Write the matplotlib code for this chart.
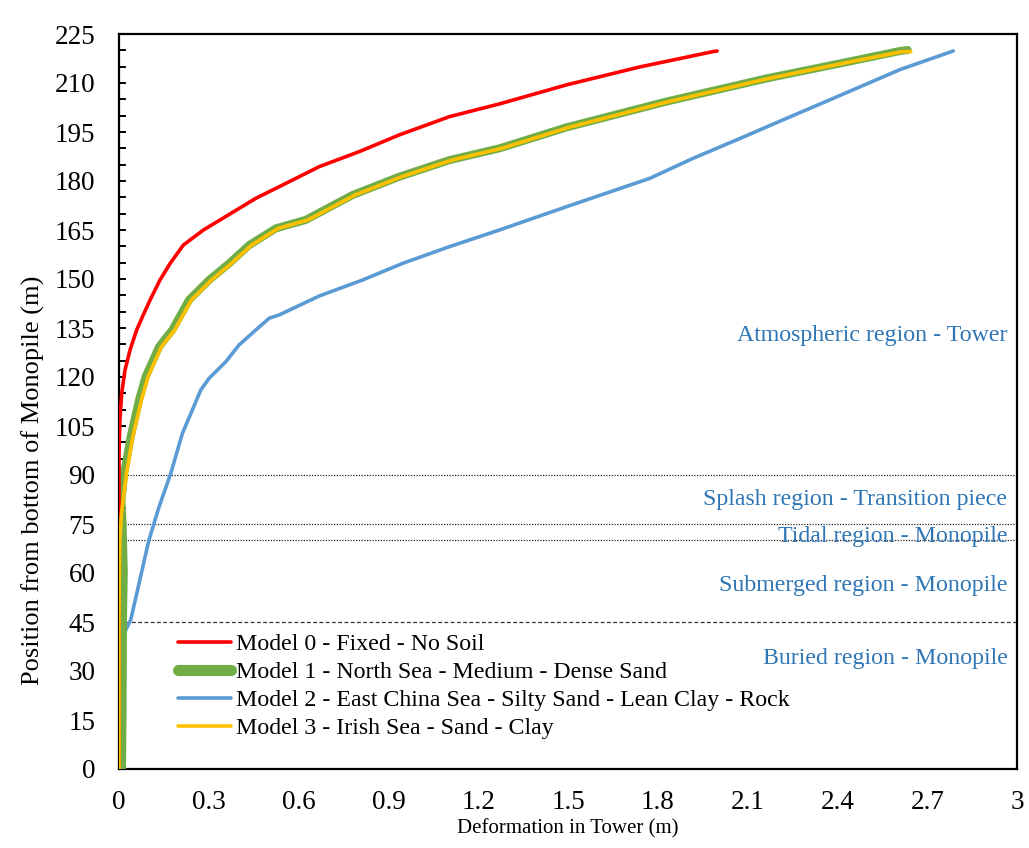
import matplotlib
matplotlib.use('Agg')
from matplotlib import pyplot as plt
from matplotlib.ticker import MultipleLocator, FuncFormatter

# Deformation (m) vs position from bottom of monopile (m)
m0_def = [0, 0, 0.0, 0.003, 0.009, 0.020, 0.037, 0.059, 0.081, 0.104, 0.137, 0.171, 0.215, 0.282,
          0.338, 0.457, 0.558, 0.669, 0.803, 0.936, 1.104, 1.271, 1.494, 1.739, 1.984, 1.998]
m0_pos = [0, 60, 96.6, 106.8, 115.0, 122.1, 128.3, 134.4, 139.0, 143.6, 149.7, 154.8, 160.4, 165.0,
          168.1, 174.7, 179.3, 184.4, 189.0, 194.1, 199.7, 203.6, 209.4, 214.9, 219.6, 219.8]

m1_def = [0.010, 0.012, 0.013, 0.016, 0.012, 0.008, 0.017, 0.039, 0.067, 0.089, 0.134, 0.178,
          0.234, 0.301, 0.368, 0.435, 0.524, 0.624, 0.780, 0.936, 1.104, 1.271, 1.494, 1.828,
          2.163, 2.441, 2.609, 2.635]
m1_pos = [0, 20, 45, 60, 75, 82, 90.5, 101.7, 113.0, 120.1, 129.3, 134.4,
          143.6, 149.7, 154.8, 160.4, 165.5, 168.1, 175.7, 181.3, 186.4, 190.0, 196.4, 204.3,
          211.4, 216.6, 219.8, 220.1]

m2_def = [0.002, 0.004, 0.006, 0.011, 0.022, 0.039, 0.067, 0.100, 0.134, 0.173, 0.212, 0.245,
          0.273, 0.301, 0.357, 0.401, 0.457, 0.502, 0.535, 0.669, 0.814, 0.948, 1.104, 1.271,
          1.494, 1.773, 1.917, 2.074, 2.218, 2.386, 2.609, 2.787]
m2_pos = [0, 15, 30.3, 37.4, 42.5, 45.6, 56.8, 70.1, 80.3, 90.5, 102.8, 109.9,
          116.0, 119.6, 124.7, 129.8, 134.4, 138.0, 139.0, 144.8, 149.7, 154.8, 159.9, 165.0,
          172.1, 180.8, 186.9, 193.0, 198.7, 205.3, 214.1, 219.8]

m3_def = [0.0, 0.0, 0.001, 0.003, 0.008, 0.025, 0.046, 0.075, 0.097, 0.142, 0.186,
          0.242, 0.309, 0.376, 0.443, 0.532, 0.632, 0.788, 0.944, 1.112, 1.279, 1.502, 1.836,
          2.171, 2.449, 2.617, 2.645]
m3_pos = [0, 45, 60, 70, 78, 90.5, 101.7, 113.0, 120.1, 129.3, 134.4,
          143.6, 149.7, 154.8, 160.4, 165.5, 168.1, 175.7, 181.3, 186.4, 190.0, 196.4, 204.3,
          211.4, 216.6, 219.6, 219.6]

labels = ['Model 0 - Fixed - No Soil',
          'Model 1 - North Sea - Medium - Dense Sand',
          'Model 2 - East China Sea - Silty Sand - Lean Clay - Rock',
          'Model 3 - Irish Sea - Sand - Clay']

# region boundaries and labels
bound_dotted = [90, 75, 70]
bound_dashed = 45
region_names = ['Atmospheric region - Tower', 'Splash region - Transition piece',
                'Tidal region - Monopile', 'Submerged region - Monopile',
                'Buried region - Monopile']
region_y = [132.8, 82.6, 71.3, 56.3, 33.7]

plt.rcParams['font.family'] = ['Liberation Serif', 'DejaVu Serif']
fs_tick = 19.5
fs_text = 17.2

fig = plt.figure(figsize=(10.29, 8.48), dpi=100)
ax = fig.add_axes([119 / 1029, 1 - 769 / 848, 898 / 1029, 735 / 848])

l0, = ax.plot(m0_def, m0_pos, color='#FF0000', lw=2.6, solid_capstyle='round', zorder=4)
l1, = ax.plot(m1_def, m1_pos, color='#70AD47', lw=5.8, solid_capstyle='round', zorder=3)
l2, = ax.plot(m2_def, m2_pos, color='#5B9BD5', lw=2.6, solid_capstyle='round', zorder=2)
l3, = ax.plot(m3_def, m3_pos, color='#FFC000', lw=2.6, solid_capstyle='round', zorder=5)

for yb in bound_dotted:
    ax.axhline(yb, color='#222222', lw=0.9, ls=(0, (1, 1.2)), zorder=1)
ax.axhline(bound_dashed, color='#333333', lw=0.9, ls=(0, (3, 2)), zorder=1)

for name, yv in zip(region_names, region_y):
    ax.text(2.968, yv, name, color='#2E75B6', fontsize=fs_text, ha='right', va='center', zorder=6)

ax.set_xlim(0, 3)
ax.set_ylim(0, 225)
ax.xaxis.set_major_locator(MultipleLocator(0.3))
ax.xaxis.set_major_formatter(FuncFormatter(lambda v, p: f'{round(v, 2):g}'))
ax.yaxis.set_major_locator(MultipleLocator(15))
ax.yaxis.set_minor_locator(MultipleLocator(5))
ax.tick_params(axis='x', which='both', length=0, labelsize=fs_tick, pad=15)
ax.tick_params(axis='y', which='both', direction='in', length=5, width=1.4, labelsize=fs_tick, pad=17)
for s in ax.spines.values():
    s.set_linewidth(1.6)

ax.set_xlabel('Deformation in Tower (m)', fontsize=15)
ax.xaxis.set_label_coords(0.5, -0.068)
ax.set_ylabel('Position from bottom of Monopile (m)', fontsize=19)
ax.yaxis.set_label_coords(-0.082, 0.393)

leg = ax.legend([l0, l1, l2, l3], labels, loc='upper left', bbox_to_anchor=(0.066, 0.184),
                frameon=False, fontsize=fs_text, handlelength=2.2, handletextpad=0.2,
                labelspacing=0.26, borderpad=0, borderaxespad=0)
for h in leg.get_lines():
    h.set_solid_capstyle('round')
leg.get_lines()[1].set_linewidth(8)

fig.savefig('out.png', dpi=100)
